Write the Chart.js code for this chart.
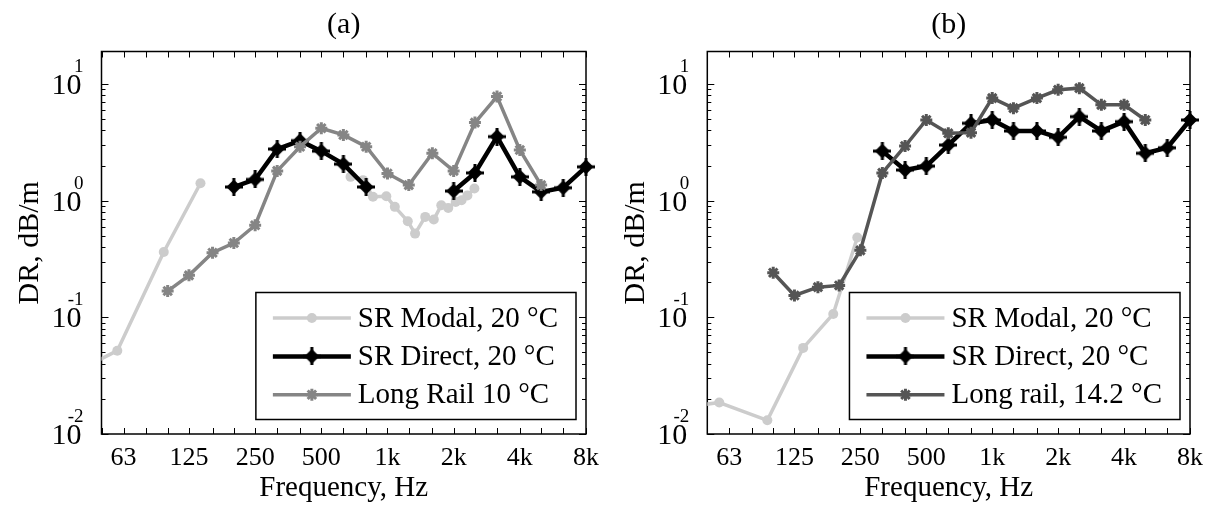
<!DOCTYPE html>
<html>
<head>
<meta charset="utf-8">
<script src="https://cdn.jsdelivr.net/npm/chart.js@4"></script>
<style>
  body { margin: 0; background: #fff; width: 1213px; height: 510px; overflow: hidden; }
  canvas { position: absolute; top: 0; }
  #chartA { left: 0; }
  #chartB { left: 606px; }
</style>
</head>
<body>
<canvas id="chartA" width="606" height="510"></canvas>
<canvas id="chartB" width="607" height="510"></canvas>
<script>
// ---- axis ticks ----
const octaveTicks = [63, 125, 250, 500, 1000, 2000, 4000, 8000];
const octaveLabels = ['63', '125', '250', '500', '1k', '2k', '4k', '8k'];
const thirdOctaveBands = [50, 63, 80, 100, 125, 160, 200, 250, 315, 400, 500, 630, 800,
                          1000, 1250, 1600, 2000, 2500, 3150, 4000, 5000, 6300, 8000];
const yTickValues = [0.01, 0.1, 1, 10];
const yTickExponents = ['-2', '-1', '0', '1'];

// ---- panel (a) ----
const modalFreqA = [44, 59, 96, 141, 300, 679, 774, 859, 988, 1080, 1237, 1335, 1485, 1624, 1757, 1890, 2043, 2173, 2310, 2486];
const modalValA  = [0.039, 0.0518, 0.363, 1.41, null, 1.60, 1.50, 1.08, 1.09, 0.885, 0.667, 0.522, 0.726, 0.689, 0.915, 0.867, 0.976, 1.01, 1.11, 1.27];

const directFreqA = [200, 250, 315, 400, 500, 630, 800, 1000, 1250, 1600, 2000, 2500, 3150, 4000, 5000, 6300, 8000];
const directValA  = [1.31, 1.52, 2.77, 3.27, 2.66, 2.06, 1.31, null, null, null, 1.21, 1.73, 3.54, 1.60, 1.19, 1.29, 1.95];

const railFreqA = [100, 125, 160, 200, 250, 315, 400, 500, 630, 800, 1000, 1250, 1600, 2000, 2500, 3150, 4000, 5000];
const railValA  = [0.168, 0.229, 0.358, 0.434, 0.616, 1.80, 2.90, 4.18, 3.66, 2.90, 1.71, 1.36, 2.55, 1.80, 4.67, 7.81, 2.72, 1.36];

// ---- panel (b) ----
const modalFreqB = [44, 56.7, 94, 137, 188, 242];
const modalValB  = [0.0175, 0.0186, 0.0131, 0.0547, 0.107, 0.483];

const directFreqB = [315, 400, 500, 630, 800, 1000, 1250, 1600, 2000, 2500, 3150, 4000, 5000, 6300, 8000];
const directValB  = [2.66, 1.83, 1.98, 3.0, 4.61, 4.92, 3.96, 3.96, 3.49, 5.25, 3.96, 4.76, 2.55, 2.84, 4.92];

const railFreqB = [100, 125, 160, 200, 250, 315, 400, 500, 630, 800, 1000, 1250, 1600, 2000, 2500, 3150, 4000, 5000];
const railValB  = [0.241, 0.154, 0.1815, 0.1877, 0.375, 1.73, 2.94, 4.92, 3.78, 3.83, 7.57, 6.21, 7.57, 8.92, 9.22, 6.63, 6.63, 4.92];

const SERIF = "'Liberation Serif', 'Times New Roman', serif";

function points(freqs, vals) {
    return freqs.map((f, i) => ({ x: f, y: vals[i] }));
}

// filled diamond with a thick plus through it (black SR Direct marker)
function diamondPlus(color) {
    const c = document.createElement('canvas');
    c.width = 18; c.height = 18;
    const g = c.getContext('2d');
    g.fillStyle = color;
    g.strokeStyle = color;
    g.beginPath();
    g.moveTo(9, 1.5); g.lineTo(16.5, 9); g.lineTo(9, 16.5); g.lineTo(1.5, 9);
    g.closePath();
    g.fill();
    g.lineWidth = 3;
    g.beginPath();
    g.moveTo(9, 0); g.lineTo(9, 18);
    g.moveTo(0, 9); g.lineTo(18, 9);
    g.stroke();
    return c;
}

function modalSet(freqs, vals) {
    return {
        label: 'SR Modal, 20 °C',
        data: points(freqs, vals),
        borderColor: '#cccccc', backgroundColor: '#cccccc',
        borderWidth: 3.5, tension: 0,
        pointStyle: 'circle', pointRadius: 5, pointBorderWidth: 0,
        pointBackgroundColor: '#cccccc', pointBorderColor: '#cccccc',
        order: 2
    };
}

function directSet(freqs, vals) {
    return {
        label: 'SR Direct, 20 °C',
        data: points(freqs, vals),
        borderColor: '#000000', backgroundColor: '#000000',
        borderWidth: 4.5, tension: 0,
        pointStyle: diamondPlus('#000000'), pointRadius: 8, pointBorderWidth: 0,
        pointBackgroundColor: '#000000', pointBorderColor: '#000000',
        clip: false,
        order: 1
    };
}

function railSet(label, color, freqs, vals) {
    return {
        label: label,
        data: points(freqs, vals),
        borderColor: color, backgroundColor: color,
        borderWidth: 3.5, tension: 0,
        pointStyle: 'star', pointRadius: 6, pointBorderWidth: 3,
        pointBackgroundColor: color, pointBorderColor: color,
        clip: false,
        order: 0
    };
}

// box, inward ticks, 10^n labels and the boxed legend
const paperFrame = {
    id: 'paperFrame',
    beforeDatasetsDraw(chart) {
        const { ctx, chartArea: a, scales: { x, y } } = chart;
        ctx.save();
        ctx.strokeStyle = '#000';
        ctx.lineWidth = 1;
        ctx.beginPath();
        thirdOctaveBands.forEach(f => {
            const px = Math.round(x.getPixelForValue(f)) + 0.5;
            ctx.moveTo(px, a.bottom); ctx.lineTo(px, a.bottom - 6);
            ctx.moveTo(px, a.top); ctx.lineTo(px, a.top + 6);
        });
        yTickValues.forEach(d => {
            for (let m = 1; m <= 9; m++) {
                const v = d * m;
                if (v > y.max) break;
                const py = Math.round(y.getPixelForValue(v)) + 0.5;
                const len = m === 1 ? 7 : 4;
                ctx.moveTo(a.left, py); ctx.lineTo(a.left + len, py);
                ctx.moveTo(a.right, py); ctx.lineTo(a.right - len, py);
            }
        });
        ctx.stroke();

        ctx.lineWidth = 1.5;
        ctx.strokeRect(a.left, a.top, a.right - a.left, a.bottom - a.top);

        // y tick labels as 10 with a raised exponent
        ctx.fillStyle = '#000';
        ctx.textAlign = 'right';
        yTickValues.forEach((v, i) => {
            const py = y.getPixelForValue(v);
            ctx.font = `30px ${SERIF}`;
            ctx.textBaseline = 'middle';
            ctx.fillText('10', a.left - 20, py + 2);
            ctx.font = `19px ${SERIF}`;
            ctx.textBaseline = 'alphabetic';
            ctx.fillText(yTickExponents[i], a.left - 18, py - 12);
        });
        ctx.restore();
    },
    afterDatasetsDraw(chart) {
        const { ctx, chartArea: a } = chart;
        const sets = chart.data.datasets;
        ctx.save();
        ctx.font = `29px ${SERIF}`;
        const textW = Math.max(...sets.map(d => ctx.measureText(d.label).width));
        const boxW = 17 + 78 + 7 + textW + 18;
        const boxH = 127;
        const right = a.right - 10;
        const bottom = a.bottom - 14.5;
        const left = right - boxW;
        const top = bottom - boxH;
        ctx.fillStyle = '#fff';
        ctx.fillRect(left, top, boxW, boxH);
        ctx.strokeStyle = '#000';
        ctx.lineWidth = 1.5;
        ctx.strokeRect(left, top, boxW, boxH);

        sets.forEach((d, i) => {
            const cy = top + 25.5 + i * 38.4;
            const x0 = left + 17;
            const x1 = x0 + 78;
            ctx.strokeStyle = d.borderColor;
            ctx.lineWidth = d.borderWidth;
            ctx.beginPath();
            ctx.moveTo(x0, cy); ctx.lineTo(x1, cy);
            ctx.stroke();
            ctx.fillStyle = d.pointBackgroundColor;
            ctx.strokeStyle = d.pointBorderColor;
            ctx.lineWidth = d.pointBorderWidth;
            Chart.helpers.drawPoint(ctx, {
                pointStyle: d.pointStyle, radius: d.pointRadius,
                rotation: 0, borderWidth: d.pointBorderWidth
            }, (x0 + x1) / 2, cy);
            ctx.fillStyle = '#000';
            ctx.textAlign = 'left';
            ctx.textBaseline = 'middle';
            ctx.fillText(d.label, x1 + 7, cy + 1);
        });
        ctx.restore();
    }
};

function makeChart(id, title, datasets, frame) {
    return new Chart(document.getElementById(id), {
        type: 'line',
        data: { datasets: datasets },
        options: {
            responsive: false,
            animation: false,
            events: [],
            layout: { padding: { left: 0, right: frame.padRight, top: 0, bottom: 0 } },
            plugins: {
                legend: { display: false },
                tooltip: { enabled: false },
                title: {
                    display: true, text: title, fullSize: false, color: '#000',
                    font: { family: SERIF, size: 30, weight: 'normal', lineHeight: 1.2 },
                    padding: { top: 7, bottom: 8.5 }
                }
            },
            scales: {
                x: {
                    type: 'logarithmic', min: 50, max: 8000,
                    grid: { display: false },
                    border: { display: false },
                    afterBuildTicks: s => { s.ticks = octaveTicks.map(v => ({ value: v })); },
                    afterFit: s => { s.height = frame.xAxisHeight; },
                    ticks: {
                        autoSkip: false, maxRotation: 0, minRotation: 0, padding: 1,
                        color: '#000',
                        font: { family: SERIF, size: 26, lineHeight: 1.2 },
                        callback: (v, i) => octaveLabels[i]
                    },
                    title: {
                        display: true, text: 'Frequency, Hz', color: '#000',
                        font: { family: SERIF, size: 29, lineHeight: 1.2 },
                        padding: { top: 0, bottom: 4 }
                    }
                },
                y: {
                    type: 'logarithmic', min: 0.01, max: 19,
                    grid: { display: false },
                    border: { display: false },
                    ticks: { display: false },
                    afterFit: s => { s.width = frame.yAxisWidth; },
                    title: {
                        display: true, text: 'DR, dB/m', color: '#000',
                        font: { family: SERIF, size: 30, lineHeight: 1.2 },
                        padding: { top: frame.yTitlePad, bottom: 0 }
                    }
                }
            }
        },
        plugins: [paperFrame]
    });
}

makeChart('chartA', '(a)', [
    modalSet(modalFreqA, modalValA),
    directSet(directFreqA, directValA),
    railSet('Long Rail 10 °C', '#858585', railFreqA, railValA)
], { padRight: 20, xAxisHeight: 76, yAxisWidth: 101.5, yTitlePad: 12 });

makeChart('chartB', '(b)', [
    modalSet(modalFreqB, modalValB),
    directSet(directFreqB, directValB),
    railSet('Long rail, 14.2 °C', '#555555', railFreqB, railValB)
], { padRight: 23, xAxisHeight: 76, yAxisWidth: 101.3, yTitlePad: 12 });
</script>
</body>
</html>
